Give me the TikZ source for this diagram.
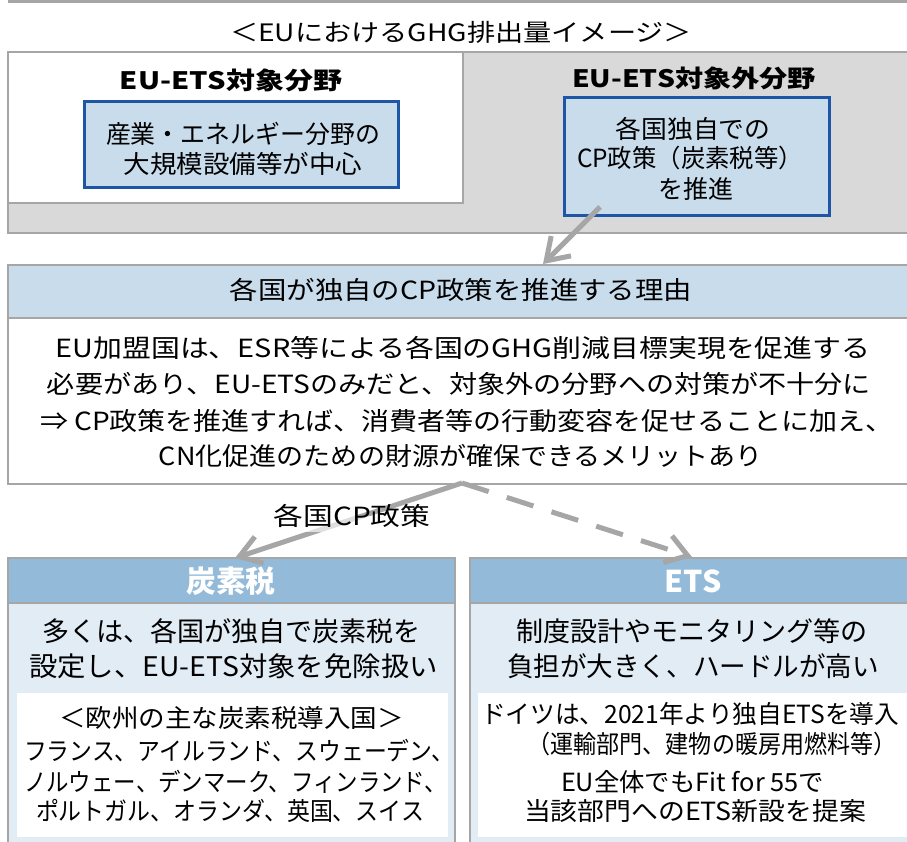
\documentclass[tikz,border=0pt]{standalone}
\usepackage{fontspec}
\usepackage{graphicx}
\setmainfont{Noto Sans CJK JP}
\usetikzlibrary{arrows.meta}
\definecolor{bordergray}{HTML}{A6A6A6}
\definecolor{bandgray}{HTML}{D9D9D9}
\definecolor{paleblue}{HTML}{C9DCEC}
\definecolor{darkblue}{HTML}{1F55A5}
\definecolor{midblue}{HTML}{93BAD8}
\definecolor{lightblue}{HTML}{E2ECF5}
\definecolor{arrowgray}{HTML}{A6A6A6}
\newcommand\fl[2]{\resizebox{#1pt}{\height}{#2}}
\newcommand\fs[1]{\fontsize{#1}{#1}\selectfont}
\begin{document}
\begin{tikzpicture}[x=1pt,y=-1pt,
  txt/.style={inner sep=0pt, outer sep=0pt, text height=6pt, text depth=4pt, anchor=center},
  t24/.style={txt, font=\fs{24}, yshift=-9pt},
  t25/.style={txt, font=\fs{25}, yshift=-9pt},
  t27/.style={txt, font=\fs{27}, yshift=-9.5pt},
  t30/.style={txt, font=\fs{30}\bfseries, text=white, yshift=-10.5pt},
  boxbase/.style={inner sep=0pt, outer sep=0pt, anchor=north west},
  grayframe/.style={boxbase, draw=bordergray, line width=2.5pt},
  bluebox/.style={boxbase, draw=darkblue, fill=paleblue, line width=3pt},
  arr/.style={draw=arrowgray, line width=5pt, -{Straight Barb[length=21pt,width=28pt]}},
  lbl/.style={t25, fill=white, fill opacity=0.65, text opacity=1, inner sep=3pt}
]
\useasboundingbox (0,0) rectangle (907,841);
\fill[white] (0,0) rectangle (907,841);
% top edge line
\draw[bordergray, line width=3pt] (8,1.5) -- (915,1.5);

% title
\node[t24] (title) at (461,31) {\fl{462}{＜EUにおけるGHG排出量イメージ＞}};

% upper region
\node[grayframe, fill=bandgray, minimum width=907pt, minimum height=181pt] (band) at (8,52) {};
\node[grayframe, fill=white, minimum width=455pt, minimum height=151pt] (etsbox) at (8,52) {};
\node[t24, font=\fs{24}\bfseries] (h1) at (231,79) {\fl{222}{EU-ETS対象分野}};
\node[t24, font=\fs{24}\bfseries] (h2) at (694,77) {\fl{244}{EU-ETS対象外分野}};
\node[bluebox, minimum width=314pt, minimum height=86pt] (lblue) at (84,101) {};
\node[t25] (lb1) at (243,133) {\fl{274}{産業・エネルギー分野の}};
\node[t25] (lb2) at (243,163) {\fl{239}{大規模設備等が中心}};
\node[bluebox, minimum width=265pt, minimum height=118pt] (rblue) at (564,97) {};
\node[t25] (rb1) at (693,128) {\fl{155}{各国独自での}};
\node[t25] (rb2) at (690,157) {\fl{226}{CP政策（炭素税等）}};
\node[t25] (rb3) at (696,188) {\fl{75}{を推進}};

% reason box
\node[grayframe, fill=paleblue, minimum width=907pt, minimum height=53pt] (rhead) at (8,265) {};
\node[grayframe, fill=white, minimum width=907pt, minimum height=166pt] (rbody) at (8,318) {};
\node[t25] (rh) at (461,289) {\fl{462}{各国が独自のCP政策を推進する理由}};
\node[t25] (r1) at (463,347) {\fl{815}{EU加盟国は、ESR等による各国のGHG削減目標実現を促進する}};
\node[t25] (r2) at (459,383) {\fl{824}{必要があり、EU-ETSのみだと、対象外の分野への対策が不十分に}};
\node[t25] (r3) at (467,420) {\fl{854}{⇒ CP政策を推進すれば、消費者等の行動変容を促せることに加え、}};
\node[t25] (r4) at (461,455) {\fl{604}{CN化促進のための財源が確保できるメリットあり}};

% bottom left
\node[grayframe, fill=midblue, minimum width=447pt, minimum height=45pt] (lhead) at (8,558) {};
\node[grayframe, fill=lightblue, minimum width=447pt, minimum height=260pt] (lbody) at (8,603) {};
\node[boxbase, fill=white, minimum width=431pt, minimum height=144pt] (linner) at (17,693) {};
\node[t30] (lh) at (231,581) {\fl{89}{炭素税}};
\node[t27] (lt1) at (231.5,631) {\fl{379}{多くは、各国が独自で炭素税を}};
\node[t27] (lt2) at (233.5,666) {\fl{409}{設定し、EU-ETS対象を免除扱い}};
\node[t25] (li1) at (231.5,717) {\fl{345}{＜欧州の主な炭素税導入国＞}};
\node[t25] (li2) at (239,750) {\fl{430}{フランス、アイルランド、スウェーデン、}};
\node[t25] (li3) at (235.5,781) {\fl{423}{ノルウェー、デンマーク、フィンランド、}};
\node[t25] (li4) at (230,810) {\fl{388}{ポルトガル、オランダ、英国、スイス}};

% bottom right
\node[grayframe, fill=midblue, minimum width=445pt, minimum height=45pt] (rhd) at (470,558) {};
\node[grayframe, fill=lightblue, minimum width=445pt, minimum height=260pt] (rbd) at (470,603) {};
\node[boxbase, fill=white, minimum width=434pt, minimum height=144pt] (rinner) at (478,693) {};
\node[t30] (rh2) at (693,581) {\fl{57}{ETS}};
\node[t27] (rt1) at (692,631) {\fl{352}{制度設計やモニタリング等の}};
\node[t27] (rt2) at (693,666) {\fl{372}{負担が大きく、ハードルが高い}};
\node[t25] (ri1) at (690,713) {\fl{418}{ドイツは、2021年より独自ETSを導入}};
\node[t25] (ri2) at (712,743) {\fl{369}{（運輸部門、建物の暖房用燃料等）}};
\node[t25] (ri3) at (692.5,781) {\fl{263}{EU全体でもFit for 55で}};
\node[t25] (ri4) at (695,810) {\fl{342}{当該部門へのETS新設を提案}};

% arrows
\coordinate (a1s) at (600,207);
\coordinate (a1e) at (543,264);
\coordinate (a2s) at (462,483);
\coordinate (a2e) at (235,558);
\coordinate (a3e) at (692,557);
\draw[arr] (a1s) -- (a1e);
\draw[arr] (a2s) -- (a2e);
\draw[arr, dash pattern=on 28pt off 19pt] (a2s) -- (a3e);
\node[lbl] (cplab) at (352,515) {\fl{157}{各国CP政策}};
\end{tikzpicture}
\end{document}
